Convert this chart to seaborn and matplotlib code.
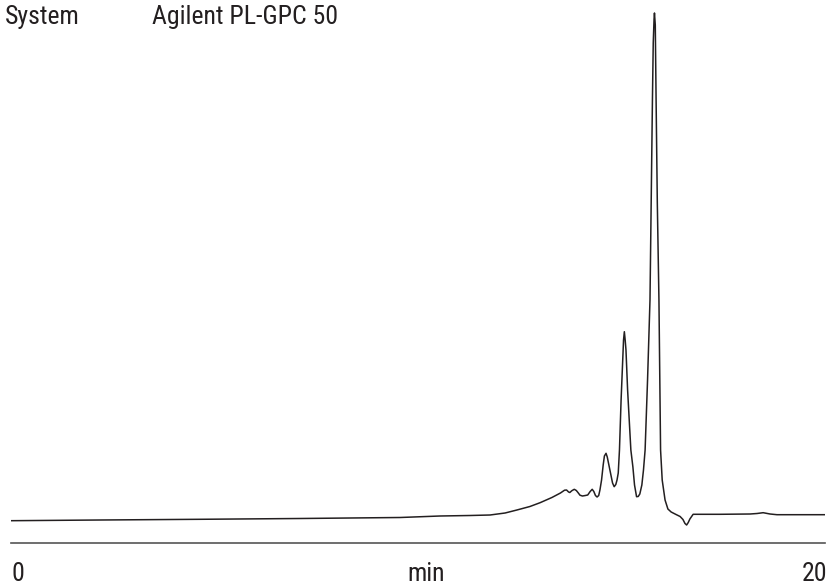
import matplotlib
matplotlib.use("Agg")
import matplotlib.pyplot as plt
from matplotlib import font_manager
import seaborn as sns
import pandas as pd

# Retention time (min) and detector signal (arbitrary units above the axis line)
time_min = [0.00, 2.19, 4.64, 7.10, 9.56, 10.54, 11.28, 11.77, 12.14, 12.43,
            12.75, 13.00, 13.29, 13.50, 13.60, 13.65, 13.70, 13.73, 13.78, 13.84,
            13.89, 13.93, 13.98, 14.04, 14.10, 14.17, 14.23, 14.28, 14.32, 14.36,
            14.40, 14.44, 14.47, 14.51, 14.55, 14.58, 14.62, 14.65, 14.69, 14.73,
            14.78, 14.82, 14.86, 14.89, 14.92, 14.95, 14.99, 15.03, 15.05, 15.07,
            15.09, 15.11, 15.15, 15.19, 15.23, 15.28, 15.32, 15.37, 15.41, 15.45,
            15.50, 15.54, 15.58, 15.64, 15.70, 15.76, 15.78, 15.80, 15.81, 15.83,
            15.85, 15.88, 15.92, 15.96, 16.00, 16.07, 16.14, 16.22, 16.34, 16.44,
            16.51, 16.56, 16.60, 16.64, 16.68, 16.76, 17.42, 18.16, 18.33, 18.48,
            18.65, 18.82, 19.39, 20.00]
signal = [22.3, 23.0, 23.7, 24.5, 25.5, 27.0, 27.5, 28.0, 30.0, 33.0,
          36.5, 40.3, 45.5, 50.0, 52.8, 53.0, 51.0, 50.5, 52.3, 53.7,
          52.5, 50.5, 47.8, 47.0, 47.4, 48.0, 51.5, 53.7, 51.5, 47.5,
          46.0, 47.5, 53.0, 63.0, 78.0, 87.0, 89.7, 86.0, 78.0, 70.0,
          60.0, 56.3, 58.5, 63.0, 70.0, 93.0, 143.0, 183.0, 203.0, 211.3,
          203.0, 193.0, 153.0, 123.0, 93.0, 76.0, 58.0, 46.3, 46.5, 49.0,
          58.0, 73.0, 93.0, 163.0, 243.0, 443.0, 500.0, 524.0, 530.0, 518.0,
          443.0, 340.0, 243.0, 93.0, 63.0, 43.0, 34.0, 31.0, 28.5, 26.5,
          23.5, 19.5, 18.0, 20.5, 24.0, 28.7, 28.7, 29.0, 29.5, 30.3,
          29.0, 28.3, 28.3, 28.3]

title_left = "System"
title_right = "Agilent PL-GPC 50"
tick_labels = ["0", "20"]
x_label = "min"

sns.set_style("white")
avail = {f.name for f in font_manager.fontManager.ttflist}
fam = "DejaVu Sans"
for cand in ["Liberation Sans Narrow", "Roboto Condensed", "DejaVu Sans Condensed"]:
    if cand in avail:
        fam = cand
        break
plt.rcParams["font.family"] = [fam, "DejaVu Sans"]

df = pd.DataFrame({"time": time_min, "signal": signal})

fig = plt.figure(figsize=(8.3, 5.88), dpi=100)
ax = fig.add_axes([11 / 830, 45 / 588, 814 / 830, 533 / 588])
sns.lineplot(data=df, x="time", y="signal", ax=ax, color="#231f20",
             linewidth=1.1, estimator=None, sort=False)
ax.set_xlim(0, 20)
ax.set_ylim(0, 533)
ax.set_yticks([])
ax.set_xticks([])
ax.set_ylabel("")
ax.set_xlabel("")
for s in ["top", "left", "right"]:
    ax.spines[s].set_visible(False)
ax.spines["bottom"].set_color("#555555")
ax.spines["bottom"].set_linewidth(1.2)

fs = 18.5
base_y = 1 - 581 / 588
fig.text(11 / 830, base_y, tick_labels[0], ha="left", va="baseline",
         fontsize=fs, color="#231f20")
fig.text(827 / 830, base_y, tick_labels[1], ha="right", va="baseline",
         fontsize=fs, color="#231f20")
fig.text(426 / 830, base_y, x_label, ha="center", va="baseline",
         fontsize=fs, color="#231f20")

title_base = 1 - 24 / 588
fig.text(5 / 830, title_base, title_left, ha="left", va="baseline", fontsize=fs,
         color="#231f20")
fig.text(152 / 830, title_base, title_right, ha="left", va="baseline", fontsize=fs,
         color="#231f20")

fig.savefig("out.png", dpi=100)
